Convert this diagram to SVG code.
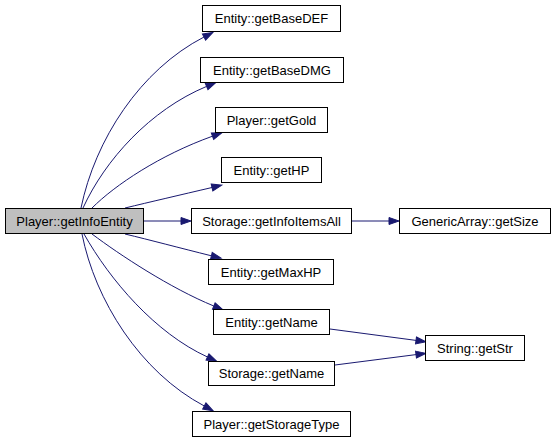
<svg xmlns="http://www.w3.org/2000/svg" width="556" height="443" viewBox="0 0 556 443">
<style>
.n rect{fill:#ffffff;stroke:#000000;stroke-width:1}
.n.main rect{fill:#bfbfbf}
.n text{font-family:"Liberation Sans",Arial,sans-serif;font-size:13px;fill:#000000;text-anchor:middle}
.e path{fill:none;stroke:#191970;stroke-width:1;marker-end:url(#arr)}
</style>
<defs>
<marker id="arr" markerUnits="userSpaceOnUse" markerWidth="10" markerHeight="7" viewBox="0 0 10 7" refX="0" refY="3.5" orient="auto" overflow="visible">
<path d="M0,0 L10,3.5 L0,7 Z" fill="#191970" stroke="#191970" stroke-width="1"/>
</marker>
</defs>
<rect width="556" height="443" fill="#ffffff"/>
<g id="connectors" class="e">
<path d="M81,208 C95,140 140,70 204,37"/>
<path d="M83,208 C105,160 150,110 206.6,86.4"/>
<path d="M92,208 C115,185 160,155 212.5,136.2"/>
<path d="M125,208 C150,202 180,195 212,187.5"/>
<path d="M144,221 L181,221"/>
<path d="M352,221 L389,221"/>
<path d="M125,234 C150,240 180,248 211.4,255.8"/>
<path d="M92,234 C120,255 170,288 213.8,306"/>
<path d="M84,234 C110,280 155,333 207.5,357"/>
<path d="M82,234 C95,300 140,372 204.3,406"/>
<path d="M330,329 L416,340.4"/>
<path d="M335,365 L416,354.6"/>
</g>
<g id="node_getBaseDEF" class="n"><rect x="202.5" y="5.5" width="138" height="26"/><text x="271.5" y="23">Entity::getBaseDEF</text></g>
<g id="node_getBaseDMG" class="n"><rect x="200.5" y="57.5" width="143" height="25"/><text x="272" y="74.5">Entity::getBaseDMG</text></g>
<g id="node_getGold" class="n"><rect x="215.5" y="107.5" width="112" height="25"/><text x="271.5" y="124.5">Player::getGold</text></g>
<g id="node_getHP" class="n"><rect x="221.5" y="157.5" width="100" height="25"/><text x="271.5" y="174.5">Entity::getHP</text></g>
<g id="node_getInfoEntity" class="n main"><rect x="5.5" y="208.5" width="138" height="25"/><text x="74.5" y="225.5">Player::getInfoEntity</text></g>
<g id="node_getInfoItemsAll" class="n"><rect x="191.5" y="208.5" width="160" height="25"/><text x="271.5" y="225.5">Storage::getInfoItemsAll</text></g>
<g id="node_getSize" class="n"><rect x="399.5" y="208.5" width="151" height="25"/><text x="475" y="225.5">GenericArray::getSize</text></g>
<g id="node_getMaxHP" class="n"><rect x="208.5" y="259.5" width="125" height="25"/><text x="271" y="276.5">Entity::getMaxHP</text></g>
<g id="node_EntityGetName" class="n"><rect x="213.5" y="309.5" width="116" height="25"/><text x="271.5" y="326.5">Entity::getName</text></g>
<g id="node_StorageGetName" class="n"><rect x="208.5" y="361.5" width="126" height="24"/><text x="271.5" y="378">Storage::getName</text></g>
<g id="node_getStorageType" class="n"><rect x="192.5" y="411.5" width="158" height="25"/><text x="271.5" y="428.5">Player::getStorageType</text></g>
<g id="node_getStr" class="n"><rect x="425.5" y="335.5" width="99" height="25"/><text x="475" y="352.5">String::getStr</text></g>
</svg>
